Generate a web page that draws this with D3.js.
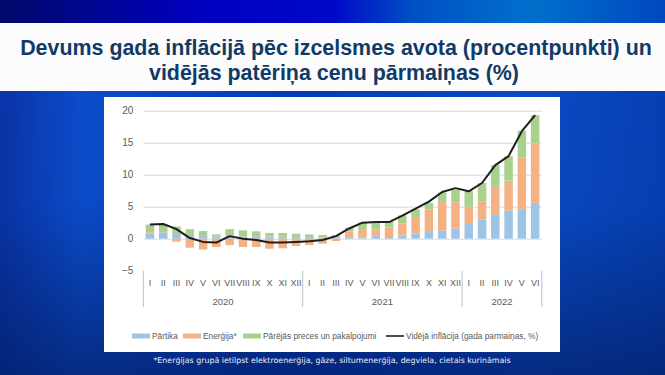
<!DOCTYPE html>
<html><head><meta charset="utf-8">
<script src="https://cdn.jsdelivr.net/npm/d3@7"></script>
<style>html,body{margin:0;padding:0;overflow:hidden;background:#0a3cb8}</style>
</head><body><svg id="c" width="665" height="375"></svg>
<script>
const monthLabels = ["I","II","III","IV","V","VI","VII","VIII","IX","X","XI","XII",
                     "I","II","III","IV","V","VI","VII","VIII","IX","X","XI","XII",
                     "I","II","III","IV","V","VI"];
const yearLabels = ["2020","2021","2022"];
const monthsPerYear = [12,12,6];
const food   = [0.78,1.0,0.73,0.57,0.57,0.35,0.52,0.35,0.40,0.36,0.31,0.28,
                0.25,0.20,0.15,0.15,0.20,0.52,0.26,0.47,0.78,1.04,1.25,1.60,
                2.30,3.00,3.80,4.40,4.60,5.60];
const energy = [0.25,0.05,-0.47,-1.40,-1.70,-1.30,-1.00,-1.30,-1.30,-1.56,-1.50,-1.15,
                -1.00,-0.78,-0.36,1.00,1.30,0.94,1.50,1.93,2.62,3.56,4.50,4.10,
                2.70,2.83,4.30,4.66,8.10,9.30];
const other  = [1.17,1.19,1.17,0.93,0.63,0.33,0.98,0.95,0.75,0.54,0.59,0.50,
                0.43,0.37,0.40,0.57,1.00,1.04,0.93,1.25,1.18,1.00,1.46,1.92,
                2.45,2.87,3.40,3.84,4.20,4.40];
const inflation = [2.2,2.3,1.5,0.1,-0.5,-0.6,0.4,0.0,-0.2,-0.6,-0.6,-0.5,
                   -0.4,-0.2,0.4,1.6,2.5,2.6,2.6,3.6,4.7,5.8,7.3,7.9,
                   7.4,8.7,11.5,12.9,16.8,19.3];
const yTicks = [-5,0,5,10,15,20];
const seriesKeys = ["food","energy","other"];
const seriesNames = ["Pārtika","Enerģija*","Pārējās preces un pakalpojumi"];
const lineName = "Vidējā inflācija (gada parmaiņas, %)";
const titleLines = ["Devums gada inflācijā pēc izcelsmes avota (procentpunkti) un",
                    "vidējās patēriņa cenu pārmaiņas (%)"];
const footnote = "*Enerģijas grupā ietilpst elektroenerģija, gāze, siltumenerģija, degviela, cietais kurināmais";

const colors = {food:"#9dc3e6", energy:"#f4b183", other:"#a9d18e"};
const svg = d3.select("#c");
const defs = svg.append("defs");

// background gradients
const g1 = defs.append("linearGradient").attr("id","bgH").attr("x1","0").attr("x2","1").attr("y1","0").attr("y2","0");
[["0","#0934a8"],["0.12","#0b4dcc"],["0.45","#063cb8"],["0.8","#0a4cc6"],["1","#0640b4"]]
  .forEach(([o,c])=>g1.append("stop").attr("offset",o).attr("stop-color",c));
const g2 = defs.append("linearGradient").attr("id","bgV").attr("x1","0").attr("x2","0").attr("y1","0").attr("y2","1");
[["0","#021a5c",0],["0.55","#021a5c",0.05],["1","#021a5c",0.65]]
  .forEach(([o,c,a])=>g2.append("stop").attr("offset",o).attr("stop-color",c).attr("stop-opacity",a));
const g3 = defs.append("linearGradient").attr("id","topH").attr("x1","0").attr("x2","1").attr("y1","0").attr("y2","0");
[["0","#000a6a"],["0.3","#0000c0"],["0.5","#0008c8"],["0.62","#0050c4"],["0.8","#0070cc"],["1","#0048c0"]]
  .forEach(([o,c])=>g3.append("stop").attr("offset",o).attr("stop-color",c));

svg.append("rect").attr("width",665).attr("height",375).attr("fill","url(#bgH)");
svg.append("rect").attr("width",665).attr("height",375).attr("fill","url(#bgV)");
svg.append("rect").attr("width",665).attr("height",24).attr("fill","url(#topH)");
svg.append("rect").attr("x",0).attr("y",23).attr("width",665).attr("height",68).attr("fill","#fcfcfd");

function fit(sel, w){
  const cur = parseFloat(sel.attr("font-size"));
  const len = sel.node().getComputedTextLength();
  const fs = cur*w/len;
  sel.attr("font-size", fs);
  return fs;
}

// title
const t1 = svg.append("text").attr("x",336).attr("y",55).attr("text-anchor","middle")
  .attr("font-family","Liberation Sans, Arial, sans-serif").attr("font-weight","bold")
  .attr("font-size",20).attr("fill","#123a66").text(titleLines[0]);
const tfs = fit(t1, 632);
svg.append("text").attr("x",334).attr("y",80).attr("text-anchor","middle")
  .attr("font-family","Liberation Sans, Arial, sans-serif").attr("font-weight","bold")
  .attr("font-size",tfs).attr("fill","#123a66").text(titleLines[1]);

// chart panel
svg.append("rect").attr("x",104).attr("y",97).attr("width",456).attr("height",255).attr("fill","#ffffff");

const plotL = 143.3, plotR = 541.8;
const x = d3.scaleBand().domain(d3.range(monthLabels.length)).range([plotL, plotR])
  .paddingInner(0.36).paddingOuter(0.18);
const y = d3.scaleLinear().domain([-5,20]).range([270.7,110.7]);

// gridlines + y labels
const yAxis = d3.axisLeft(y).tickValues(yTicks).tickSize(-(plotR-plotL)).tickPadding(10);
const ga = svg.append("g").attr("transform",`translate(${plotL},0)`).call(yAxis);
ga.select(".domain").remove();
ga.selectAll(".tick line").attr("stroke","#d9d9d9").attr("stroke-width",1)
  .attr("display",d=>d===-5?"none":null);
ga.selectAll(".tick text").attr("font-family","Liberation Sans, Arial, sans-serif")
  .attr("font-size",10).attr("fill","#595959");

// stacked bars
const rows = monthLabels.map((m,i)=>({key:i, food:food[i], energy:energy[i], other:other[i]}));
const stacked = d3.stack().keys(seriesKeys).offset(d3.stackOffsetDiverging)(rows);
svg.append("g").selectAll("g").data(stacked).join("g").attr("fill",d=>colors[d.key])
  .selectAll("rect").data(d=>d).join("rect")
  .attr("x",d=>x(d.data.key)).attr("width",x.bandwidth())
  .attr("y",d=>y(Math.max(d[0],d[1]))).attr("height",d=>Math.abs(y(d[0])-y(d[1])));

// line
const line = d3.line().x((v,i)=>x(i)+x.bandwidth()/2).y(v=>y(v));
svg.append("path").datum(inflation).attr("d",line).attr("fill","none")
  .attr("stroke","#1e1e1e").attr("stroke-width",2).attr("stroke-linejoin","round");

// category axis (months + years)
const step = x.step();
const axG = svg.append("g");
axG.selectAll("text.m").data(monthLabels).join("text").attr("class","m")
  .attr("x",(d,i)=>x(i)+x.bandwidth()/2).attr("y",286).attr("text-anchor","middle")
  .attr("font-family","Liberation Sans, Arial, sans-serif").attr("font-size",9).attr("fill","#595959")
  .text(d=>d);
let start = 0;
const bounds = [plotL];
yearLabels.forEach((yl,k)=>{
  const s = start, e = start + monthsPerYear[k];
  const x0 = plotL + step*s, x1 = plotL + step*e;
  bounds.push(x1);
  axG.append("text").attr("x",(x0+x1)/2).attr("y",305).attr("text-anchor","middle")
    .attr("font-family","Liberation Sans, Arial, sans-serif").attr("font-size",9.5).attr("fill","#595959")
    .text(yl);
  start = e;
});
axG.selectAll("line.sep").data(bounds).join("line").attr("class","sep")
  .attr("x1",d=>d).attr("x2",d=>d).attr("y1",270.7).attr("y2",307)
  .attr("stroke","#bfbfbf").attr("stroke-width",1);

// legend
const legY = 336;
const legItems = [
  {name:seriesNames[0], color:colors.food, type:"bar", sx:132, tx:152},
  {name:seriesNames[1], color:colors.energy, type:"bar", sx:183, tx:203},
  {name:seriesNames[2], color:colors.other, type:"bar", sx:243, tx:263},
  {name:lineName, color:"#1e1e1e", type:"line", sx:386, tx:406}
];
const lg = svg.append("g");
legItems.forEach(it=>{
  if(it.type==="bar"){
    lg.append("rect").attr("x",it.sx).attr("y",legY-2.5).attr("width",18).attr("height",5).attr("fill",it.color);
  } else {
    lg.append("line").attr("x1",it.sx).attr("x2",it.sx+18).attr("y1",legY).attr("y2",legY)
      .attr("stroke",it.color).attr("stroke-width",1.6);
  }
  lg.append("text").attr("x",it.tx).attr("y",legY+3.2)
    .attr("font-family","Liberation Sans, Arial, sans-serif").attr("font-size",8.3).attr("fill","#595959")
    .text(it.name);
});

// footnote
const fn = svg.append("text").attr("x",332).attr("y",363).attr("text-anchor","middle")
  .attr("font-family","DejaVu Sans, Verdana, sans-serif").attr("font-size",8).attr("fill","#e8eefa")
  .text(footnote);
fit(fn, 358);
</script></body></html>
